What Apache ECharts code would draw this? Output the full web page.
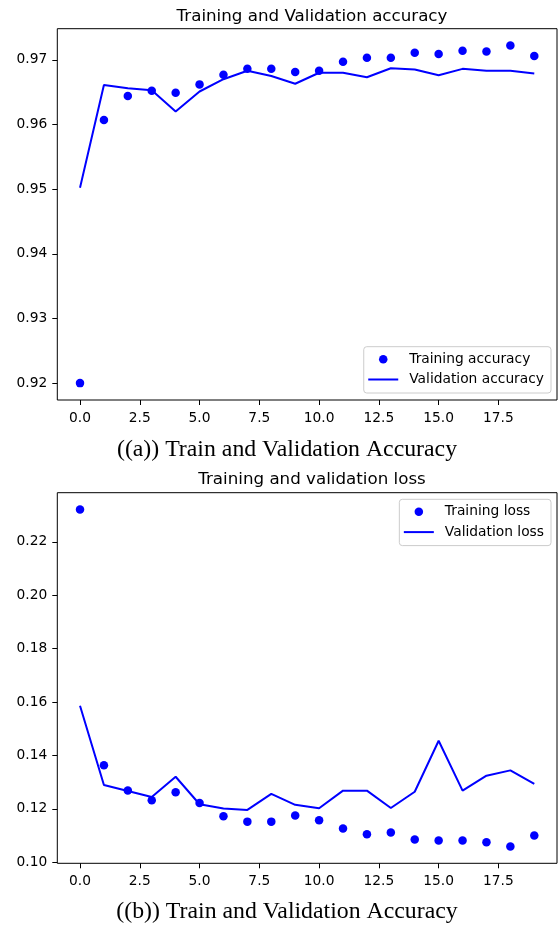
<!DOCTYPE html>
<html>
<head>
<meta charset="utf-8">
<title>Training and Validation curves</title>
<script src="https://cdn.jsdelivr.net/npm/echarts@6/dist/echarts.min.js"></script>
<style>
  html, body { margin: 0; padding: 0; background: #ffffff; }
  #chart { width: 559px; height: 926px; }
</style>
</head>
<body>
<div id="chart"></div>
<script>
// Epoch index shared by both panels
const epochs = [0, 1, 2, 3, 4, 5, 6, 7, 8, 9, 10, 11, 12, 13, 14, 15, 16, 17, 18, 19];

// Panel (a): accuracy per epoch
const trainAccuracy = [0.9200, 0.9607, 0.9644, 0.9652, 0.9649, 0.9662, 0.9677, 0.9686, 0.9686, 0.9681,
                       0.9683, 0.9697, 0.9703, 0.9703, 0.9711, 0.9709, 0.9714, 0.9713, 0.9722, 0.9706];
const valAccuracy   = [0.9502, 0.9661, 0.9656, 0.9653, 0.9620, 0.9651, 0.9670, 0.9683, 0.9675, 0.9663,
                       0.9680, 0.9680, 0.9673, 0.9687, 0.9685, 0.9676, 0.9686, 0.9683, 0.9683, 0.9679];

// Panel (b): loss per epoch
const trainLoss = [0.2321, 0.1363, 0.1269, 0.1232, 0.1262, 0.1222, 0.1172, 0.1152, 0.1152, 0.1175,
                   0.1157, 0.1126, 0.1105, 0.1111, 0.1085, 0.1081, 0.1081, 0.1075, 0.1059, 0.1100];
const valLoss   = [0.1586, 0.1289, 0.1267, 0.1244, 0.1320, 0.1217, 0.1201, 0.1196, 0.1256, 0.1215,
                   0.1202, 0.1268, 0.1268, 0.1203, 0.1264, 0.1455, 0.1268, 0.1324, 0.1344, 0.1293];

// Tick positions
const epochTicks    = [0, 2.5, 5, 7.5, 10, 12.5, 15, 17.5];
const accuracyTicks = [0.92, 0.93, 0.94, 0.95, 0.96, 0.97];
const lossTicks     = [0.10, 0.12, 0.14, 0.16, 0.18, 0.20, 0.22];

// Text
const titleAcc   = 'Training and Validation accuracy';
const titleLoss  = 'Training and validation loss';
const captionAcc = '((a)) Train and Validation Accuracy';
const captionLoss = '((b)) Train and Validation Accuracy';
const nameTrainAcc = 'Training accuracy';
const nameValAcc   = 'Validation accuracy';
const nameTrainLoss = 'Training loss';
const nameValLoss   = 'Validation loss';

const BLUE = '#0000ff';
const SANS = 'DejaVu Sans';
const SERIF = 'Liberation Serif';
const LINE_ICON = 'path://M0 0H30V2H0Z';

const pairs = (xs, ys) => xs.map((x, i) => [x, ys[i]]);

// 5% padding around the data, like the default plotting margins
function padded(values) {
  const lo = Math.min(...values), hi = Math.max(...values);
  const m = (hi - lo) * 0.05;
  return { min: lo - m, max: hi + m };
}
const xr = padded(epochs);
const accR = padded(trainAccuracy.concat(valAccuracy));
const lossR = padded(trainLoss.concat(valLoss));

function xAxisFor(gridIndex) {
  return {
    type: 'value', gridIndex, min: xr.min, max: xr.max, position: 'bottom',
    axisLine: { show: false, onZero: false },
    splitLine: { show: false },
    axisTick: { show: true, length: 5, customValues: epochTicks,
                lineStyle: { color: '#000', width: 1 } },
    axisLabel: { customValues: epochTicks, margin: 11.5, fontSize: 13.8, fontFamily: SANS,
                 color: '#000', formatter: v => v.toFixed(1) }
  };
}
function yAxisFor(gridIndex, range, ticks) {
  return {
    type: 'value', gridIndex, min: range.min, max: range.max, position: 'left',
    axisLine: { show: false, onZero: false },
    splitLine: { show: false },
    axisTick: { show: true, length: 5, customValues: ticks,
                lineStyle: { color: '#000', width: 1 } },
    axisLabel: { customValues: ticks, margin: 10, fontSize: 13.8, fontFamily: SANS,
                 color: '#000', formatter: v => v.toFixed(2) }
  };
}
function legendFor(dotName, lineName, top) {
  return {
    orient: 'vertical', right: 8, top,
    data: [
      { name: dotName, icon: 'circle' },
      { name: lineName, icon: LINE_ICON }
    ],
    itemWidth: 30, itemHeight: 8.5, itemGap: 4.3,
    symbolKeepAspect: true,
    padding: [4.5, 7, 5.5, 4.5],
    borderColor: '#cccccc', borderWidth: 1, borderRadius: 3,
    backgroundColor: 'rgba(255,255,255,0.8)',
    textStyle: { fontSize: 13.8, fontFamily: SANS, color: '#000', lineHeight: 16,
                 padding: [0, 0, 0, 6] }
  };
}
function titleText(text, centerX, top, font, size) {
  return {
    text, left: centerX, top, textAlign: 'center',
    textStyle: { fontFamily: font, fontSize: size, fontWeight: 'normal', color: '#000' }
  };
}

const option = {
  animation: false,
  backgroundColor: '#ffffff',
  title: [
    titleText(titleAcc, 307, 3, SANS, 16.7),
    titleText(captionAcc, 282, 432.5, SERIF, 23.8),
    titleText(titleLoss, 307, 466.5, SANS, 16.7),
    titleText(captionLoss, 282, 895, SERIF, 23.8)
  ],
  grid: [
    { left: 57.3, top: 28.7, width: 499.7, height: 371.3, show: true,
      borderColor: '#000', borderWidth: 1, backgroundColor: 'transparent' },
    { left: 57.3, top: 492.7, width: 499.7, height: 370.6, show: true,
      borderColor: '#000', borderWidth: 1, backgroundColor: 'transparent' }
  ],
  xAxis: [xAxisFor(0), xAxisFor(1)],
  yAxis: [yAxisFor(0, accR, accuracyTicks), yAxisFor(1, lossR, lossTicks)],
  legend: [
    legendFor(nameTrainAcc, nameValAcc, 346.7),
    legendFor(nameTrainLoss, nameValLoss, 499.3)
  ],
  series: [
    { name: nameTrainAcc, type: 'scatter', xAxisIndex: 0, yAxisIndex: 0,
      symbol: 'circle', symbolSize: 8.5, itemStyle: { color: BLUE, opacity: 1 },
      data: pairs(epochs, trainAccuracy) },
    { name: nameValAcc, type: 'line', xAxisIndex: 0, yAxisIndex: 0,
      symbol: 'none', lineStyle: { color: BLUE, width: 2 }, itemStyle: { color: BLUE },
      data: pairs(epochs, valAccuracy) },
    { name: nameTrainLoss, type: 'scatter', xAxisIndex: 1, yAxisIndex: 1,
      symbol: 'circle', symbolSize: 8.5, itemStyle: { color: BLUE, opacity: 1 },
      data: pairs(epochs, trainLoss) },
    { name: nameValLoss, type: 'line', xAxisIndex: 1, yAxisIndex: 1,
      symbol: 'none', lineStyle: { color: BLUE, width: 2 }, itemStyle: { color: BLUE },
      data: pairs(epochs, valLoss) }
  ]
};

const chart = echarts.init(document.getElementById('chart'), null, { renderer: 'canvas' });
chart.setOption(option);
</script>
</body>
</html>
